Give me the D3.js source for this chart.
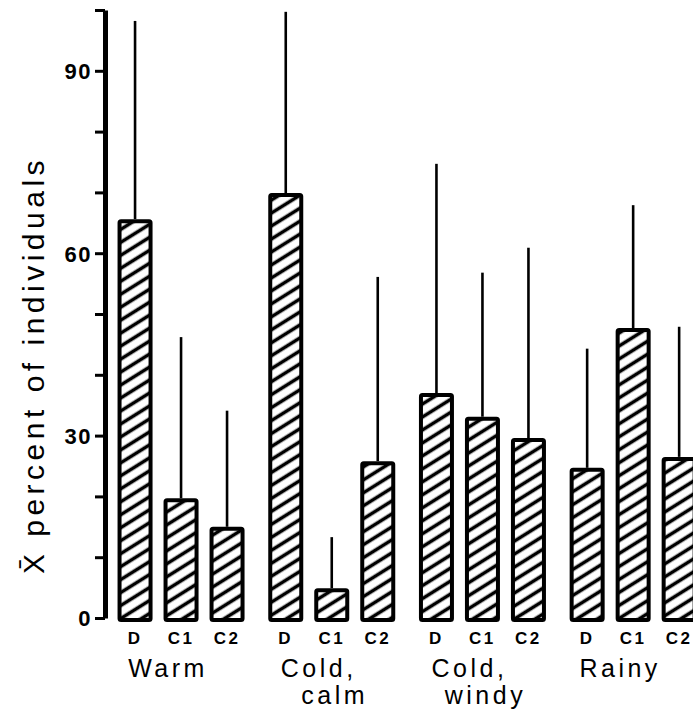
<!DOCTYPE html>
<html>
<head>
<meta charset="utf-8">
<title>Percent of individuals by weather</title>
<style>
    body { margin: 0; background: #fff; }
    svg { display: block; font-family: "Liberation Sans", Arial, sans-serif; }
    .axis path, .axis line { stroke: #000; }
    .axis text { font-size: 22px; font-weight: bold; letter-spacing: 1.5px; fill: #000; }
</style>
<script src="https://d3js.org/d3.v7.min.js"></script>
</head>
<body>
<script>
// weather conditions (groups) and the three sites inside each
var groups = ["Warm", "Cold, calm", "Cold, windy", "Rainy"];
var groupLines = [["Warm"], ["Cold,", "calm"], ["Cold,", "windy"], ["Rainy"]];
var sites = ["D", "C1", "C2"];
// mean percent, one array per site, in group order
var meanD  = [65.6, 69.9, 37.0, 24.7];
var meanC1 = [19.7, 4.9, 33.1, 47.7];
var meanC2 = [15.0, 25.8, 29.6, 26.5];
// top of the error line
var upperD  = [98.2, 99.7, 74.7, 44.3];
var upperC1 = [46.2, 13.3, 56.8, 67.9];
var upperC2 = [34.1, 56.1, 60.9, 47.9];
var yTicks = [0, 10, 20, 30, 40, 50, 60, 70, 80, 90, 100];
var yLabels = [0, 30, 60, 90];

var width = 693, height = 710;

var svg = d3.select("body").append("svg")
    .attr("width", width)
    .attr("height", height);

// diagonal hatch
var defs = svg.append("defs");
defs.append("pattern")
    .attr("id", "hatch")
    .attr("patternUnits", "userSpaceOnUse")
    .attr("width", 12)
    .attr("height", 11)
    .attr("patternTransform", "rotate(-32)")
  .append("line")
    .attr("x1", -2).attr("x2", 14)
    .attr("y1", 5.5).attr("y2", 5.5)
    .attr("stroke", "#000")
    .attr("stroke-width", 3.6);

var y = d3.scaleLinear().domain([0, 100]).range([618, 10]);

var x0 = d3.scaleBand().domain(groups).range([105.7, 708.5]);
var x1 = d3.scalePoint().domain(sites).range([-46, 46]);
var barW = 31;

var means = { D: meanD, C1: meanC1, C2: meanC2 };
var uppers = { D: upperD, C1: upperC1, C2: upperC2 };

var rows = [];
groups.forEach(function(g, i) {
    sites.forEach(function(s) {
        rows.push({ group: g, site: s, mean: means[s][i], upper: uppers[s][i] });
    });
});
function cx(d) { return x0(d.group) + x0.bandwidth() / 2 + x1(d.site); }

// error lines
svg.append("g").selectAll("line")
    .data(rows)
    .enter()
    .append("line")
    .attr("x1", cx).attr("x2", cx)
    .attr("y1", function(d) { return y(d.upper); })
    .attr("y2", function(d) { return y(d.mean); })
    .attr("stroke", "#000")
    .attr("stroke-width", 2.6);

// bars
svg.append("g").selectAll("rect")
    .data(rows)
    .enter()
    .append("rect")
    .attr("x", function(d) { return cx(d) - barW / 2; })
    .attr("y", function(d) { return y(d.mean) + 2; })
    .attr("width", barW)
    .attr("height", function(d) { return y(0) - y(d.mean); })
    .attr("rx", 1.5)
    .attr("fill", "url(#hatch)")
    .attr("stroke", "#000")
    .attr("stroke-width", 4);

// y axis
var yAxis = d3.axisLeft(y)
    .tickValues(yTicks)
    .tickSize(10)
    .tickSizeOuter(0)
    .tickPadding(3)
    .tickFormat(function(d) { return yLabels.indexOf(d) >= 0 ? d : ""; });

var ax = svg.append("g")
    .attr("class", "axis")
    .attr("transform", "translate(105,0)")
    .call(yAxis);
ax.select(".domain").attr("stroke-width", 5);
ax.selectAll(".tick line").attr("stroke-width", 3);
ax.selectAll(".tick text").attr("dy", "0.36em");

// site labels under each bar
svg.append("g").selectAll("text")
    .data(rows)
    .enter()
    .append("text")
    .attr("x", cx)
    .attr("y", 644)
    .attr("text-anchor", "middle")
    .attr("font-size", 17)
    .attr("font-weight", "bold")
    .attr("letter-spacing", 2.5)
    .text(function(d) { return d.site; });

// group labels, one text per line
var labelRows = [];
groups.forEach(function(g, i) {
    groupLines[i].forEach(function(line, j) {
        labelRows.push({ group: g, line: line, row: j });
    });
});
svg.append("g").selectAll("text")
    .data(labelRows)
    .enter()
    .append("text")
    .attr("x", function(d) { return x0(d.group) + x0.bandwidth() / 2 + (d.row === 0 ? -13 : 3); })
    .attr("y", function(d) { return 677 + d.row * 27; })
    .attr("font-size", 25)
    .attr("letter-spacing", 3.5)
    .attr("text-anchor", "middle")
    .text(function(d) { return d.line; });

// y title
svg.append("text")
    .attr("transform", "translate(44," + 365 + ") rotate(-90)")
    .attr("text-anchor", "middle")
    .attr("font-size", 30)
    .attr("letter-spacing", 4.5)
    .text("X\u0304 percent of individuals");
</script>
</body>
</html>
